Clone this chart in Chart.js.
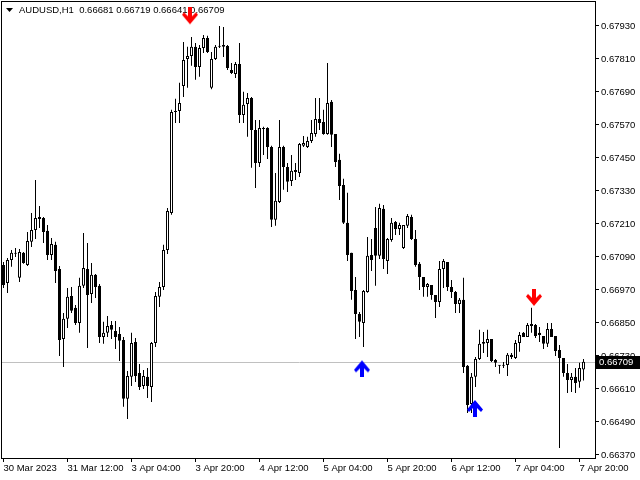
<!DOCTYPE html>
<html><head><meta charset="utf-8">
<script src="https://cdn.jsdelivr.net/npm/chart.js@4"></script>
<style>html,body{margin:0;padding:0;background:#fff;overflow:hidden}canvas{display:block}</style>
</head><body>
<canvas id="c" width="640" height="480"></canvas>
<script>
const symbolTitle = 'AUDUSD,H1';
const headerValues = ['0.66681', '0.66719', '0.66641', '0.66709'];
const bidPrice = 0.66709;

const opens = [0.67061,0.66995,0.67079,0.67105,0.67014,0.67105,0.67061,0.67145,0.67188,0.67235,
0.67232,0.67185,0.67097,0.67134,0.67046,0.66792,0.66865,0.66948,0.66905,0.66850,
0.66985,0.67046,0.66955,0.67025,0.66985,0.66799,0.66814,0.66843,0.66821,0.66810,
0.66788,0.66574,0.66654,0.66781,0.66668,0.66621,0.66654,0.66617,0.66777,0.66945,
0.66981,0.67115,0.67250,0.67621,0.67621,0.67712,0.67810,0.67821,0.67854,0.67781,
0.67850,0.67886,0.67705,0.67810,0.67857,0.67861,0.67857,0.67770,0.67755,0.67792,
0.67606,0.67646,0.67668,0.67552,0.67432,0.67559,0.67559,0.67490,0.67225,0.67290,
0.67490,0.67417,0.67366,0.67406,0.67395,0.67494,0.67490,0.67512,0.67537,0.67592,
0.67581,0.67537,0.67654,0.67537,0.67443,0.67352,0.67214,0.67105,0.66970,0.66883,
0.66850,0.66963,0.67097,0.67195,0.67094,0.67265,0.67075,0.67152,0.67217,0.67192,
0.67123,0.67203,0.67235,0.67155,0.67065,0.67017,0.66981,0.66988,0.66952,0.66926,
0.67046,0.67072,0.66981,0.66963,0.66919,0.66934,0.66694,0.66555,0.66654,0.66719,
0.66774,0.66777,0.66792,0.66715,0.66697,0.66697,0.66697,0.66734,0.66723,0.66777,
0.66814,0.66799,0.66846,0.66843,0.66814,0.66803,0.66774,0.66828,0.66803,0.66752,
0.66723,0.66668,0.66643,0.66654,0.66636,0.66681];
const highs = [0.67072,0.67086,0.67115,0.67123,0.67119,0.67108,0.67181,0.67250,0.67370,0.67275,
0.67235,0.67206,0.67159,0.67145,0.67057,0.66886,0.66977,0.66981,0.66915,0.67014,
0.67177,0.67141,0.67068,0.67028,0.66992,0.66854,0.66875,0.66857,0.66857,0.66835,
0.66799,0.66675,0.66814,0.66795,0.66701,0.66679,0.66686,0.66781,0.66963,0.66999,
0.67134,0.67268,0.67625,0.67665,0.67723,0.67872,0.67854,0.67890,0.67868,0.67861,
0.67897,0.67894,0.67835,0.67861,0.67930,0.67926,0.67861,0.67795,0.67799,0.67868,
0.67691,0.67686,0.67672,0.67588,0.67588,0.67563,0.67562,0.67494,0.67395,0.67588,
0.67494,0.67432,0.67461,0.67432,0.67504,0.67530,0.67527,0.67588,0.67668,0.67668,
0.67625,0.67795,0.67661,0.67537,0.67465,0.67374,0.67323,0.67105,0.67017,0.66890,
0.66970,0.67163,0.67155,0.67272,0.67283,0.67279,0.67159,0.67232,0.67221,0.67214,
0.67206,0.67246,0.67243,0.67188,0.67072,0.67017,0.66995,0.66988,0.66952,0.67075,
0.67083,0.67072,0.67006,0.66966,0.66941,0.67014,0.66697,0.66668,0.66726,0.66825,
0.66817,0.66825,0.66792,0.66719,0.66697,0.66708,0.66741,0.66741,0.66788,0.66817,
0.66817,0.66850,0.66905,0.66846,0.66835,0.66803,0.66850,0.66850,0.66803,0.66770,
0.66723,0.66701,0.66668,0.66686,0.66705,0.66719];
const lows = [0.66977,0.66959,0.67054,0.67090,0.66999,0.67065,0.67057,0.67126,0.67155,0.67195,
0.67141,0.67079,0.67079,0.66995,0.66730,0.66690,0.66832,0.66886,0.66843,0.66814,
0.66977,0.66759,0.66923,0.66941,0.66777,0.66774,0.66799,0.66792,0.66755,0.66712,
0.66545,0.66501,0.66621,0.66635,0.66606,0.66610,0.66577,0.66563,0.66763,0.66908,
0.66970,0.67101,0.67243,0.67577,0.67577,0.67672,0.67705,0.67785,0.67734,0.67745,
0.67832,0.67832,0.67700,0.67806,0.67850,0.67817,0.67770,0.67755,0.67741,0.67577,
0.67577,0.67527,0.67414,0.67341,0.67417,0.67461,0.67446,0.67199,0.67203,0.67286,
0.67334,0.67326,0.67348,0.67370,0.67381,0.67490,0.67486,0.67504,0.67527,0.67552,
0.67534,0.67534,0.67490,0.67417,0.67297,0.67210,0.67075,0.66934,0.66792,0.66799,
0.66763,0.66960,0.67039,0.66985,0.67083,0.67046,0.67028,0.67145,0.67170,0.67170,
0.67119,0.67195,0.67152,0.67054,0.66970,0.66945,0.66945,0.66934,0.66868,0.66908,
0.66977,0.66966,0.66941,0.66886,0.66886,0.66668,0.66523,0.66523,0.66617,0.66715,
0.66741,0.66726,0.66708,0.66690,0.66665,0.66686,0.66657,0.66719,0.66719,0.66745,
0.66799,0.66799,0.66814,0.66795,0.66781,0.66755,0.66763,0.66799,0.66730,0.66395,
0.66654,0.66595,0.66599,0.66595,0.66614,0.66641];
const closes = [0.66988,0.67079,0.67105,0.67102,0.67108,0.67068,0.67148,0.67188,0.67232,0.67228,
0.67181,0.67097,0.67137,0.67039,0.66788,0.66865,0.66945,0.66894,0.66850,0.66985,
0.67050,0.66952,0.67025,0.66981,0.66799,0.66814,0.66839,0.66825,0.66799,0.66785,
0.66574,0.66657,0.66777,0.66657,0.66617,0.66657,0.66621,0.66777,0.66948,0.66981,
0.67115,0.67257,0.67617,0.67617,0.67650,0.67806,0.67821,0.67854,0.67781,0.67850,
0.67886,0.67835,0.67810,0.67854,0.67854,0.67854,0.67777,0.67759,0.67792,0.67606,
0.67643,0.67668,0.67552,0.67432,0.67559,0.67555,0.67490,0.67225,0.67294,0.67490,
0.67417,0.67363,0.67403,0.67399,0.67501,0.67504,0.67512,0.67541,0.67592,0.67577,
0.67537,0.67650,0.67534,0.67435,0.67348,0.67214,0.67097,0.66966,0.66883,0.66854,
0.66966,0.67094,0.67079,0.67094,0.67268,0.67083,0.67155,0.67214,0.67192,0.67206,
0.67206,0.67239,0.67155,0.67061,0.67017,0.66981,0.66992,0.66952,0.66926,0.67046,
0.67075,0.66981,0.66963,0.66919,0.66934,0.66690,0.66552,0.66654,0.66719,0.66774,
0.66781,0.66792,0.66712,0.66705,0.66694,0.66694,0.66734,0.66726,0.66777,0.66806,
0.66799,0.66843,0.66839,0.66803,0.66806,0.66774,0.66828,0.66799,0.66748,0.66723,
0.66668,0.66643,0.66654,0.66632,0.66686,0.66709];

const xTickIndex = [0, 16, 32, 48, 64, 80, 96, 112, 128, 144];
const xTickLabels = ['30 Mar 2023', '31 Mar 12:00', '3 Apr 04:00', '3 Apr 20:00', '4 Apr 12:00',
  '5 Apr 04:00', '5 Apr 20:00', '6 Apr 12:00', '7 Apr 04:00', '7 Apr 20:00'];
const yTickValues = [0.66370, 0.66490, 0.66610, 0.66730, 0.66850, 0.66970, 0.67090,
  0.67210, 0.67330, 0.67450, 0.67570, 0.67690, 0.67810, 0.67930];

const downArrowX = [46.625, 132.625];
const downArrowY = [0.67965, 0.66941];
const upArrowX = [89.625, 117.875];
const upArrowY = [0.66685, 0.66541];

const FONT = {family: 'Liberation Sans', size: 9.5};
const FONT_CSS = '9.5px "Liberation Sans"';

function makeArrow(color, up) {
  const c = document.createElement('canvas');
  c.width = 16; c.height = 18;
  const g = c.getContext('2d');
  g.fillStyle = color;
  g.beginPath();
  const pts = [[6,0],[10,0],[10,9],[14,5],[16,7.5],[8,17],[0,7.5],[2,5],[6,9]];
  pts.forEach((p, k) => {
    const y = up ? 18 - p[1] : p[1];
    if (k === 0) g.moveTo(p[0], y); else g.lineTo(p[0], y);
  });
  g.closePath();
  g.fill();
  return c;
}

const idx = opens.map((_, i) => i);
const bodies = idx.map(i => ({x: i, y: [opens[i], closes[i]]}));
const wicks = idx.map(i => ({x: i, y: [lows[i], highs[i]]}));

function noPad(ax) { ax.paddingLeft = 0; ax.paddingRight = 0; ax.paddingTop = 0; ax.paddingBottom = 0; }

const decor = {
  id: 'decor',
  beforeDatasetsDraw(chart) {
    const {ctx, chartArea: a, scales: {y}} = chart;
    ctx.save();
    const by = Math.round(y.getPixelForValue(bidPrice)) + 0.5;
    ctx.strokeStyle = '#c0c0c0';
    ctx.lineWidth = 1;
    ctx.beginPath(); ctx.moveTo(a.left, by); ctx.lineTo(a.right + 2, by); ctx.stroke();
    ctx.fillStyle = '#000';
    ctx.beginPath(); ctx.moveTo(6, 8); ctx.lineTo(13, 8); ctx.lineTo(9.5, 12); ctx.closePath(); ctx.fill();
    ctx.font = FONT_CSS;
    ctx.textBaseline = 'middle';
    ctx.textAlign = 'left';
    ctx.fillText(symbolTitle + '  ' + headerValues.join(' '), 19, 10.5);
    ctx.restore();
  },
  afterDraw(chart) {
    const {ctx, chartArea: a, scales: {y}} = chart;
    ctx.save();
    ctx.strokeStyle = '#000';
    ctx.lineWidth = 1;
    ctx.strokeRect(a.left - 0.5, a.top - 0.5, a.right - a.left + 1, a.bottom - a.top + 1);
    const by = Math.round(y.getPixelForValue(bidPrice));
    ctx.fillStyle = '#000';
    ctx.fillRect(a.right + 1, by - 6, 640 - a.right, 13);
    ctx.fillStyle = '#fff';
    ctx.font = FONT_CSS;
    ctx.textBaseline = 'middle';
    ctx.fillText(bidPrice.toFixed(5), a.right + 4, by + 0.5);
    ctx.restore();
  }
};

new Chart(document.getElementById('c'), {
  type: 'bar',
  data: {
    datasets: [
      {type: 'scatter', data: downArrowX.map((x, k) => ({x, y: downArrowY[k]})), pointStyle: makeArrow('#ff0000', false), pointRadius: 8, clip: false, order: 0},
      {type: 'scatter', data: upArrowX.map((x, k) => ({x, y: upArrowY[k]})), pointStyle: makeArrow('#0000ff', true), pointRadius: 8, clip: false, order: 0},
      {data: bodies, barThickness: 3, borderWidth: 1, borderColor: '#000', borderSkipped: false, minBarLength: 1,
        backgroundColor: ctx => (closes[ctx.dataIndex] >= opens[ctx.dataIndex] ? '#ffffff' : '#000000'), order: 1},
      {data: wicks, barThickness: 1, borderWidth: 0, backgroundColor: '#000', order: 2}
    ]
  },
  options: {
    responsive: false, animation: false, devicePixelRatio: 1,
    grouped: false, inflateAmount: 0,
    layout: {padding: {left: 2, top: 2, right: 0, bottom: 0}, autoPadding: false},
    plugins: {legend: {display: false}, tooltip: {enabled: false}},
    scales: {
      x: {
        type: 'linear', position: 'bottom', min: -0.375, max: 147.875, offset: false,
        grid: {drawOnChartArea: false, drawTicks: true, tickLength: 4, color: '#000', offset: false},
        border: {display: false},
        afterBuildTicks: ax => { ax.ticks = xTickIndex.map(v => ({value: v})); },
        afterFit: ax => { ax.height = 22; noPad(ax); },
        ticks: {autoSkip: false, maxRotation: 0, minRotation: 0, align: 'start', padding: 1, color: '#000', font: FONT,
          callback: v => xTickLabels[xTickIndex.indexOf(v)]}
      },
      y: {
        type: 'linear', position: 'right', min: 0.66359, max: 0.68017,
        grid: {drawOnChartArea: false, drawTicks: true, tickLength: 4, color: '#000'},
        border: {display: false},
        afterBuildTicks: ax => { ax.ticks = yTickValues.map(v => ({value: v})); },
        afterFit: ax => { ax.width = 45; noPad(ax); },
        ticks: {padding: 2, color: '#000', font: FONT, callback: v => Number(v).toFixed(5)}
      }
    }
  },
  plugins: [decor]
});
</script>
</body></html>
